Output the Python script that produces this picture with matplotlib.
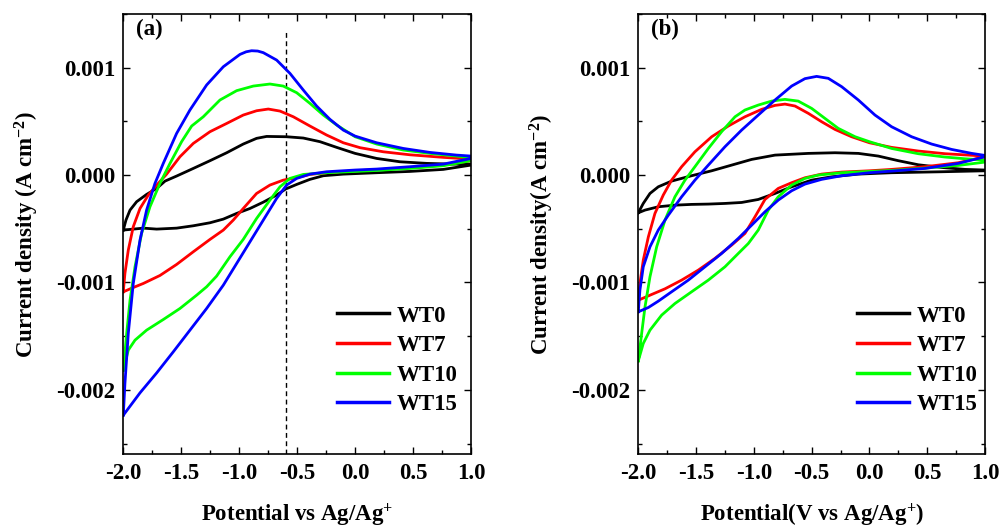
import matplotlib
matplotlib.use("Agg")
import matplotlib.pyplot as plt
from matplotlib.ticker import FixedLocator, MultipleLocator, FormatStrFormatter

plt.rcParams['font.family'] = ['Liberation Serif', 'DejaVu Serif']
plt.rcParams['font.weight'] = 'bold'
plt.rcParams['axes.unicode_minus'] = False
plt.rcParams['mathtext.fontset'] = 'custom'
plt.rcParams['mathtext.rm'] = 'Liberation Serif:bold'
plt.rcParams['mathtext.bf'] = 'Liberation Serif:bold'
plt.rcParams['mathtext.default'] = 'rm'

# Cyclic voltammograms: potential (V vs Ag/Ag+) and current density (mA cm^-2),
# anodic sweep from -2.0 V to 1.0 V followed by the return sweep.
samples = ['WT0', 'WT7', 'WT10', 'WT15']
colors = ['#000000', '#ff0000', '#00ff00', '#0000ff']

# ---- panel (a) ----
a_wt0_E = [-2.0, -1.977, -1.942, -1.885, -1.799, -1.712, -1.64, -1.54, -1.396, -1.252, -1.108,
           -0.965, -0.85, -0.763, -0.591, -0.447, -0.303, -0.159, 0.0, 0.186, 0.387, 0.617, 0.847, 1.0,
           1.0, 0.761, 0.473, 0.186, -0.102, -0.274, -0.39, -0.504, -0.6, -0.677, -0.792, -0.907,
           -1.022, -1.137, -1.252, -1.396, -1.54, -1.712, -1.827, -1.942, -2.0]
a_wt0_J = [-0.512, -0.419, -0.326, -0.248, -0.180, -0.124, -0.056, -0.009, 0.062, 0.134, 0.208,
           0.289, 0.342, 0.360, 0.357, 0.345, 0.311, 0.258, 0.202, 0.155, 0.124, 0.109, 0.102, 0.102,
           0.093, 0.053, 0.034, 0.022, 0.009, -0.006, -0.040, -0.087, -0.130, -0.186, -0.252, -0.311,
           -0.357, -0.410, -0.444, -0.472, -0.494, -0.503, -0.494, -0.506, -0.512]

a_wt7_E = [-2.0, -1.986, -1.957, -1.914, -1.856, -1.784, -1.712, -1.626, -1.511, -1.396, -1.252,
           -1.108, -0.965, -0.85, -0.749, -0.648, -0.533, -0.39, -0.246, -0.102, 0.043, 0.243, 0.473,
           0.761, 1.0,
           1.0, 0.761, 0.473, 0.186, 0.0, -0.246, -0.39, -0.504, -0.62, -0.735, -0.85, -0.965, -1.051,
           -1.137, -1.252, -1.396, -1.54, -1.684, -1.827, -1.914, -2.0]
a_wt7_J = [-1.087, -0.916, -0.699, -0.481, -0.311, -0.186, -0.093, 0.009, 0.171, 0.295, 0.404,
           0.481, 0.559, 0.599, 0.615, 0.596, 0.543, 0.457, 0.373, 0.301, 0.255, 0.217, 0.189,
           0.165, 0.149,
           0.134, 0.093, 0.068, 0.050, 0.040, 0.022, 0.006, -0.025, -0.047, -0.093, -0.171, -0.311, -0.419,
           -0.512, -0.599, -0.714, -0.832, -0.935, -1.009, -1.047, -1.087]

a_wt10_E = [-2.0, -1.971, -1.942, -1.899, -1.842, -1.77, -1.684, -1.597, -1.497, -1.41, -1.31,
            -1.166, -1.022, -0.878, -0.735, -0.62, -0.504, -0.39, -0.274, -0.159, 0.0, 0.186, 0.416,
            0.646, 0.876, 1.0,
            1.0, 0.761, 0.473, 0.186, 0.0, -0.246, -0.447, -0.562, -0.648, -0.735, -0.85, -0.965,
            -1.08, -1.195, -1.281, -1.367, -1.511, -1.655, -1.799, -1.899, -1.957, -2.0]
a_wt10_J = [-1.817, -1.475, -1.165, -0.854, -0.543, -0.295, -0.078, 0.109, 0.311, 0.457, 0.543,
            0.699, 0.786, 0.829, 0.848, 0.829, 0.767, 0.668, 0.559, 0.466, 0.357, 0.289, 0.233,
            0.202, 0.177, 0.160,
            0.134, 0.087, 0.062, 0.043, 0.034, 0.022, 0.006, -0.031, -0.109, -0.233, -0.404, -0.599,
            -0.761, -0.941, -1.040, -1.118, -1.242, -1.345, -1.444, -1.537, -1.630, -1.817]

a_wt15_E = [-2.0, -1.986, -1.957, -1.914, -1.856, -1.799, -1.727, -1.655, -1.54, -1.425, -1.281,
            -1.137, -0.993, -0.94, -0.893, -0.84, -0.792, -0.677, -0.562, -0.447, -0.332, -0.217,
            -0.102, 0.0, 0.186, 0.416, 0.646, 0.876, 1.0,
            1.0, 0.761, 0.473, 0.186, 0.0, -0.246, -0.39, -0.504, -0.591, -0.677, -0.792, -0.907,
            -1.022, -1.137, -1.281, -1.425, -1.569, -1.712, -1.856, -2.0]
a_wt15_J = [-2.236, -1.941, -1.475, -1.009, -0.606, -0.326, -0.078, 0.109, 0.388, 0.606, 0.839,
            1.009, 1.124, 1.148, 1.158, 1.155, 1.140, 1.071, 0.947, 0.792, 0.643, 0.519,
            0.419, 0.363, 0.301, 0.248, 0.211, 0.186, 0.177,
            0.155, 0.102, 0.078, 0.056, 0.047, 0.031, 0.009, -0.031, -0.093, -0.217, -0.419, -0.621,
            -0.823, -1.025, -1.242, -1.444, -1.646, -1.842, -2.028, -2.236]

# ---- panel (b) ----
b_wt0_E = [-2.0, -1.957, -1.899, -1.827, -1.712, -1.539, -1.365, -1.192, -1.019, -0.817, -0.529,
           -0.298, -0.096, 0.077, 0.25, 0.423, 0.625, 0.827, 1.0,
           1.0, 0.625, 0.192, -0.096, -0.327, -0.5, -0.673, -0.817, -0.962, -1.106, -1.25, -1.394,
           -1.539, -1.683, -1.827, -1.942, -2.0]
b_wt0_J = [-0.351, -0.264, -0.171, -0.109, -0.056, -0.006, 0.040, 0.093, 0.146, 0.186, 0.202,
           0.208, 0.202, 0.177, 0.134, 0.096, 0.071, 0.053, 0.047,
           0.040, 0.031, 0.022, 0.009, -0.016, -0.047, -0.109, -0.171, -0.227, -0.255, -0.264, -0.270,
           -0.273, -0.280, -0.295, -0.326, -0.351]

b_wt7_E = [-2.0, -1.986, -1.957, -1.913, -1.856, -1.784, -1.712, -1.625, -1.51, -1.365, -1.221,
           -1.077, -0.933, -0.817, -0.731, -0.644, -0.529, -0.414, -0.298, -0.154, 0.0, 0.192, 0.423,
           0.654, 1.0,
           1.0, 0.769, 0.481, 0.192, 0.0, -0.24, -0.414, -0.558, -0.673, -0.789, -0.904, -0.99,
           -1.077, -1.192, -1.337, -1.481, -1.625, -1.769, -1.885, -2.0]
b_wt7_J = [-1.165, -1.009, -0.792, -0.575, -0.357, -0.186, -0.047, 0.078, 0.217, 0.357, 0.457,
           0.543, 0.612, 0.649, 0.661, 0.643, 0.575, 0.497, 0.425, 0.357, 0.301, 0.258, 0.224,
           0.199, 0.177,
           0.171, 0.115, 0.078, 0.053, 0.040, 0.028, 0.009, -0.025, -0.071, -0.124, -0.227, -0.388,
           -0.543, -0.652, -0.776, -0.885, -0.978, -1.059, -1.112, -1.165]

b_wt10_E = [-2.0, -1.971, -1.942, -1.899, -1.841, -1.769, -1.683, -1.596, -1.51, -1.394, -1.279,
            -1.163, -1.077, -0.962, -0.846, -0.731, -0.616, -0.5, -0.385, -0.27, -0.124, 0.0, 0.192,
            0.423, 0.654, 0.827, 1.0,
            1.0, 0.769, 0.481, 0.192, 0.0, -0.24, -0.442, -0.558, -0.673, -0.789, -0.875, -0.962,
            -1.048, -1.135, -1.25, -1.394, -1.539, -1.683, -1.798, -1.899, -1.957, -2.0]
b_wt10_J = [-1.730, -1.475, -1.227, -0.947, -0.668, -0.419, -0.202, -0.047, 0.078, 0.248, 0.404,
            0.543, 0.606, 0.652, 0.689, 0.705, 0.689, 0.621, 0.528, 0.435, 0.357, 0.311, 0.248,
            0.199, 0.168, 0.152, 0.140,
            0.121, 0.090, 0.065, 0.043, 0.034, 0.022, 0.0, -0.031, -0.093, -0.202, -0.326, -0.512,
            -0.637, -0.730, -0.854, -0.978, -1.087, -1.196, -1.304, -1.444, -1.568, -1.730]

b_wt15_E = [-2.0, -1.986, -1.957, -1.899, -1.827, -1.74, -1.625, -1.51, -1.394, -1.25, -1.106,
            -0.962, -0.817, -0.673, -0.558, -0.457, -0.356, -0.24, -0.096, 0.048, 0.192, 0.365,
            0.538, 0.711, 0.885, 1.0,
            1.0, 0.769, 0.481, 0.192, 0.0, -0.24, -0.414, -0.558, -0.673, -0.789, -0.904, -1.019,
            -1.135, -1.279, -1.423, -1.567, -1.712, -1.827, -1.913, -2.0]
b_wt15_J = [-1.273, -1.071, -0.854, -0.668, -0.512, -0.373, -0.202, -0.047, 0.093, 0.264, 0.419,
            0.559, 0.699, 0.829, 0.898, 0.919, 0.901, 0.823, 0.699, 0.559, 0.450, 0.357,
            0.289, 0.239, 0.202, 0.183,
            0.171, 0.109, 0.062, 0.037, 0.022, -0.006, -0.040, -0.084, -0.146, -0.233, -0.342, -0.466,
            -0.590, -0.730, -0.854, -0.978, -1.087, -1.174, -1.233, -1.273]

MA_TO_A = 1e-3
x_ticks = [-2.0, -1.5, -1.0, -0.5, 0.0, 0.5, 1.0]
y_ticks = [-0.002, -0.001, 0.0, 0.001]

panels = [
    dict(tag='(a)', curves=[(a_wt0_E, a_wt0_J), (a_wt7_E, a_wt7_J), (a_wt10_E, a_wt10_J), (a_wt15_E, a_wt15_J)],
         xlabel='Potential vs Ag/Ag$^{+}$', ylabel='Current density (A cm$^{-2}$)',
         rect=[123.3 / 1003, 76.7 / 531, 347.7 / 1003, 440.3 / 531], leg_x=0.614),
    dict(tag='(b)', curves=[(b_wt0_E, b_wt0_J), (b_wt7_E, b_wt7_J), (b_wt10_E, b_wt10_J), (b_wt15_E, b_wt15_J)],
         xlabel='Potential(V vs Ag/Ag$^{+}$)', ylabel='Current density(A cm$^{-2}$)',
         rect=[638.3 / 1003, 76.7 / 531, 346.7 / 1003, 440.3 / 531], leg_x=0.630),
]
marker_potential = -0.6  # dashed guide in panel (a)

fig = plt.figure(figsize=(10.03, 5.31), dpi=100)
axes = []
for p in panels:
    ax = fig.add_axes(p['rect'])
    axes.append(ax)
    for name, col, (E, J) in zip(samples, colors, p['curves']):
        ax.plot(E, [j * MA_TO_A for j in J], color=col, lw=2.0, label=name,
                solid_joinstyle='round')
    ax.set_xlim(-2.0, 1.0)
    ax.set_ylim(-0.0026, 0.0015)
    ax.xaxis.set_major_locator(FixedLocator(x_ticks))
    ax.yaxis.set_major_locator(FixedLocator(y_ticks))
    ax.xaxis.set_minor_locator(MultipleLocator(0.25))
    ax.yaxis.set_minor_locator(MultipleLocator(0.0005))
    ax.xaxis.set_major_formatter(FormatStrFormatter('%.1f'))
    ax.yaxis.set_major_formatter(FormatStrFormatter('%.3f'))
    ax.tick_params(which='both', direction='in', top=True, right=True, width=1.0)
    ax.tick_params(which='major', length=5, labelsize=16.5, pad=6)
    ax.tick_params(which='minor', length=3)
    for sp in ax.spines.values():
        sp.set_linewidth(1.2)
    for lab in ax.get_xticklabels() + ax.get_yticklabels():
        lab.set_fontweight('bold')
    ax.set_xlabel(p['xlabel'], fontsize=16.5, fontweight='bold')
    ax.set_ylabel(p['ylabel'], fontsize=16.5, fontweight='bold')
    ax.xaxis.set_label_coords(0.5, -0.107)
    ax.yaxis.set_label_coords(-0.236, 0.5)
    ax.text(0.036, 0.964, p['tag'], transform=ax.transAxes, fontsize=16.5,
            fontweight='bold', ha='left', va='center')
    leg = ax.legend(loc='upper left', bbox_to_anchor=(p['leg_x'], 0.338), frameon=False,
                    borderpad=0, borderaxespad=0, handlelength=2.26, handletextpad=0.34,
                    labelspacing=0.37, prop={'family': 'Liberation Serif', 'weight': 'bold', 'size': 16.5})
    for h in leg.get_lines():
        h.set_linewidth(2.5)

axes[0].plot([marker_potential, marker_potential], [-0.0026, 0.00136], color='black',
             lw=1.0, ls=(0, (3.5, 2.5)), zorder=1)

fig.savefig('out.png', dpi=100)
